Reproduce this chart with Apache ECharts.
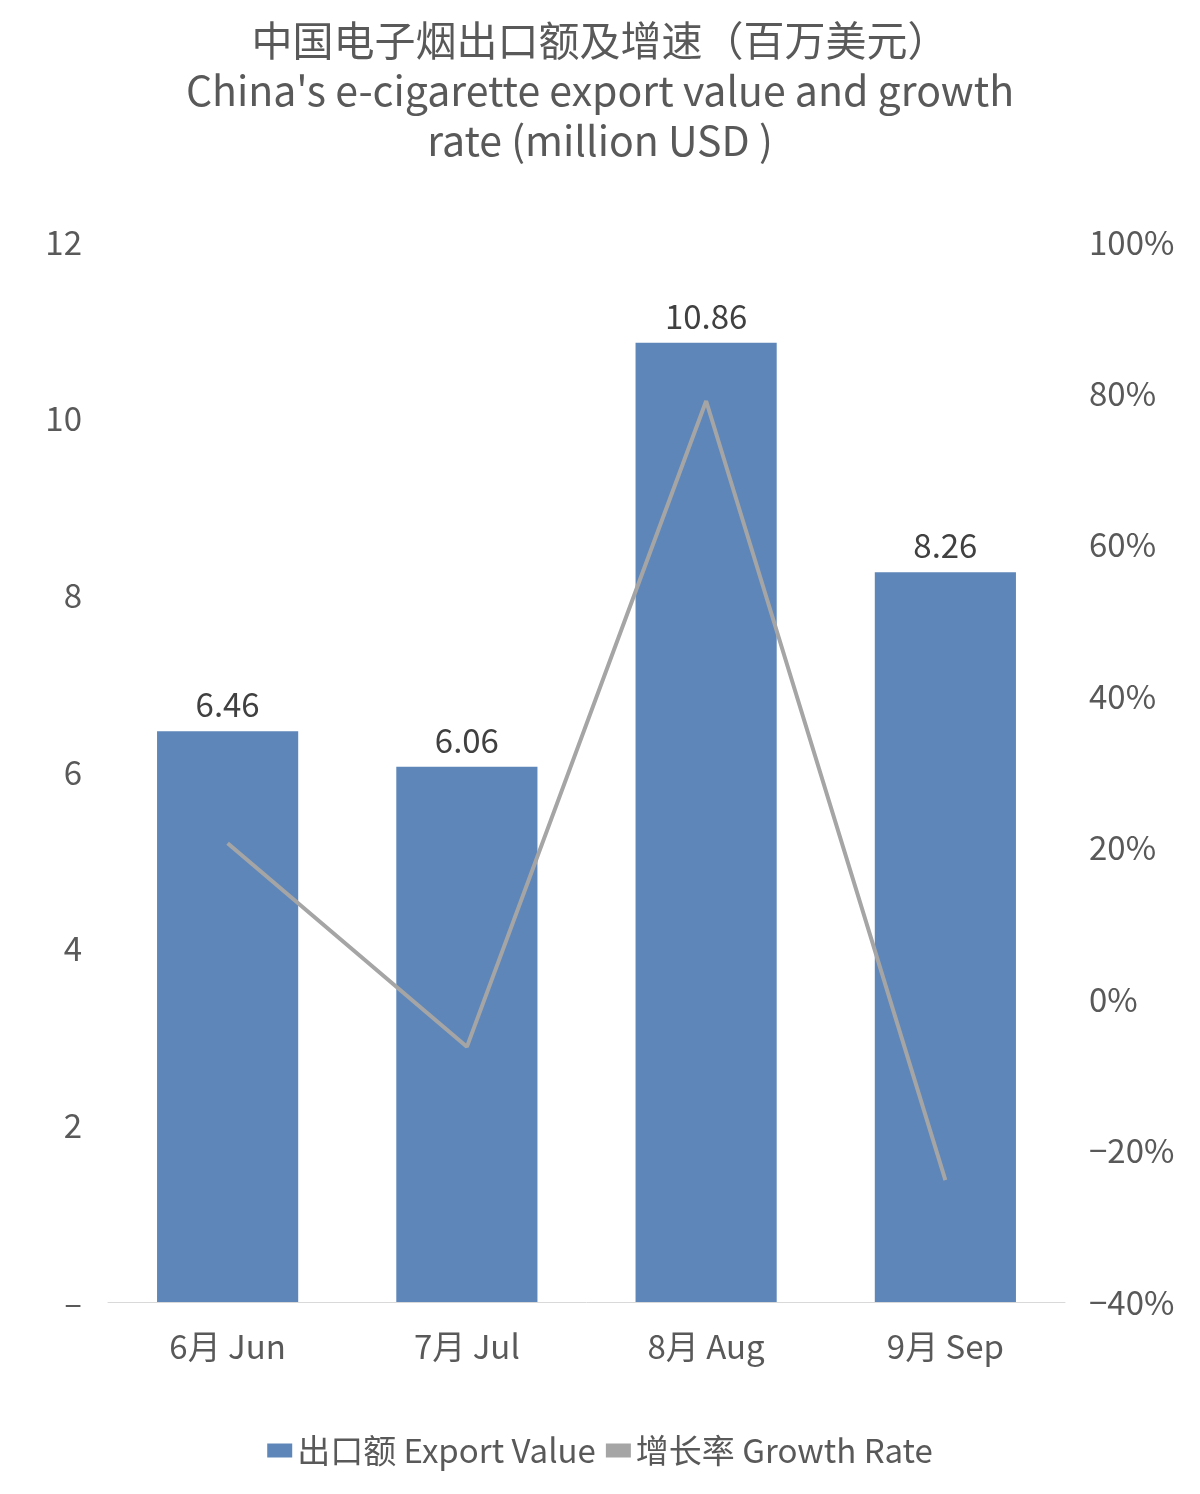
<!DOCTYPE html>
<html><head><meta charset="utf-8">
<script src="https://cdn.jsdelivr.net/npm/echarts@6/dist/echarts.min.js"></script>
<style>html,body{margin:0;background:#fff}#c{width:1200px;height:1494px}</style>
</head><body><div id="c"></div>
<script>
var months = ['6月 Jun', '7月 Jul', '8月 Aug', '9月 Sep'];
var exportValue = [6.46, 6.06, 10.86, 8.26];
var growthRate = [20.6, -6.3, 79, -23.9];

var font = '"Noto Sans CJK SC", "Noto Sans", sans-serif';
var chart = echarts.init(document.getElementById('c'));
chart.setOption({
	textStyle: { fontFamily: font },
	title: {
		text: '中国电子烟出口额及增速（百万美元）\nChina\'s e-cigarette export value and growth\nrate (million USD )',
		left: 'center',
		top: 10,
		textStyle: { color: '#595959', fontSize: 41, fontWeight: 'normal', lineHeight: 50, fontFamily: font }
	},
	grid: { left: 108, right: 135, top: 242, bottom: 192 },
	legend: {
		bottom: 22,
		itemGap: 10,
		textStyle: { color: '#595959', fontSize: 33 },
		data: [
			{ name: '出口额 Export Value', icon: 'rect', itemWidth: 24, itemHeight: 24 },
			{ name: '增长率 Growth Rate', icon: 'rect', itemWidth: 30, itemHeight: 4 }
		]
	},
	xAxis: {
		type: 'category',
		data: months,
		axisTick: { show: false },
		axisLine: { lineStyle: { color: '#d9d9d9' } },
		axisLabel: { color: '#595959', fontSize: 33, margin: 28 }
	},
	yAxis: [{
		type: 'value', min: 0, max: 12, interval: 2,
		splitLine: { show: false },
		axisLabel: {
			color: '#595959', fontSize: 33, margin: 26,
			formatter: function (v) { return v === 0 ? '–' : v; }
		}
	}, {
		type: 'value', min: -40, max: 100, interval: 20,
		splitLine: { show: false },
		axisLabel: {
			color: '#595959', fontSize: 33, margin: 24,
			formatter: function (v) { return (v < 0 ? '−' + (-v) : v) + '%'; }
		}
	}],
	series: [{
		name: '出口额 Export Value',
		type: 'bar',
		data: exportValue,
		barWidth: '59%',
		itemStyle: { color: '#5e86b9' },
		label: { show: true, position: 'top', color: '#404040', fontSize: 33, distance: 10 }
	}, {
		name: '增长率 Growth Rate',
		type: 'line',
		yAxisIndex: 1,
		data: growthRate,
		symbol: 'none',
		lineStyle: { color: '#a5a5a5', width: 4 },
		itemStyle: { color: '#a5a5a5' }
	}]
});
</script></body></html>
